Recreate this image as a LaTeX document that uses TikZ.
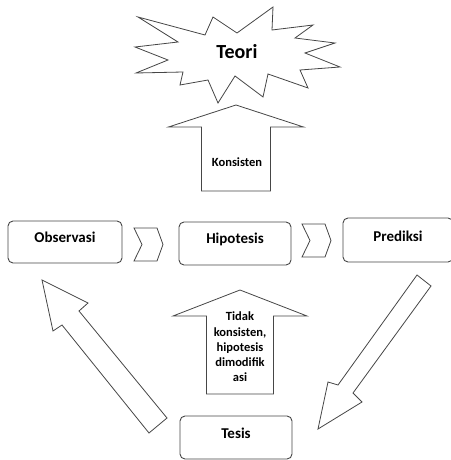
\documentclass[tikz,border=0pt]{standalone}
\usepackage{fontspec}
\setmainfont{Carlito}
\usepackage{tikz}
\tikzstyle{canvas} = [x = 1pt, y = -1pt]
\definecolor{lineColor}{RGB}{70,70,70}
\tikzstyle{boxStyle} = [draw=lineColor, fill=white, rounded corners = 5pt, line width = .9pt, inner sep = 0pt]
\tikzstyle{boxText} = [font=\fontsize{15}{18}\selectfont\bfseries]
\tikzstyle{arrowText} = [font=\fontsize{12.5}{15.3}\selectfont\bfseries, align=center]
\tikzstyle{teoriText} = [font=\fontsize{20}{24}\selectfont\bfseries]
\tikzstyle{shapeStyle} = [draw=lineColor, fill=white, line width = .8pt, line join = miter]
\newcommand{\labelBox}[7]{\node [boxStyle, minimum width = #4pt, minimum height = #5pt] (#1) at (#2, #3) {}; \node [boxText] (#1Text) at ([yshift = #6pt] #1.center) {#7};}
\newcommand{\upBlockArrow}[6]{\filldraw [shapeStyle] (#1 - #6, #4) -- (#1 - #6, #3) -- (#1 - #5, #3) -- (#1, #2) -- (#1 + #5, #3) -- (#1 + #6, #3) -- (#1 + #6, #4) -- cycle;}
\newcommand{\chevronShape}[2]{\filldraw [shapeStyle] (#1, #2) -- ++(23, 0) -- ++(6, 16.5) -- ++(-6, 16.5) -- ++(-23, 0) -- ++(8, -16.5) -- cycle;}

\begin{document}
\begin{tikzpicture}[canvas]
        \useasboundingbox (0, 0) rectangle (450, 460);
        \filldraw [shapeStyle] (138, 17) -- (205, 35) -- (213, 17) -- (237, 33) -- (273, 7) -- (272, 30) -- (313, 25) -- (295, 38) -- (335, 43) -- (305, 53) -- (340, 67) -- (300, 70) -- (308, 88) -- (268, 74) -- (263, 97) -- (235, 76) -- (218, 103) -- (208, 80) -- (180, 85) -- (183, 72) -- (136, 73) -- (168, 60) -- (135, 47) -- (178, 42) -- cycle;
        \node [teoriText] (teori) at (237, 52) {Teori};

        \upBlockArrow{236}{105}{127}{191}{67.5}{34.5}
        \node [arrowText] (konsisten) at (237, 162) {Konsisten};

        \labelBox{observasi}{65}{242}{114}{42}{5}{Observasi}
        \labelBox{hipotesis}{235}{243.5}{112}{43}{4.5}{Hipotesis}
        \labelBox{prediksi}{398}{240}{110}{44}{4}{Prediksi}
        \labelBox{tesis}{236}{437.5}{112}{43}{4.5}{Tesis}
        \chevronShape{134}{228}
        \chevronShape{302}{224}

        \upBlockArrow{240}{290}{316}{394}{67}{33.5}
        \node [arrowText] (tidakKonsisten) at (240, 347) {Tidak\\konsisten,\\hipotesis\\dimodifik\\asi};

        \filldraw [shapeStyle] (42, 280) -- (88, 303) -- (79, 311) -- (167, 418) -- (149, 433) -- (62, 325) -- (53, 331) -- cycle;
        \filldraw [shapeStyle] (417, 275) -- (431, 286) -- (353, 393) -- (362, 402) -- (318, 429) -- (328, 382) -- (338, 385) -- cycle;
      \end{tikzpicture}
\end{document}
